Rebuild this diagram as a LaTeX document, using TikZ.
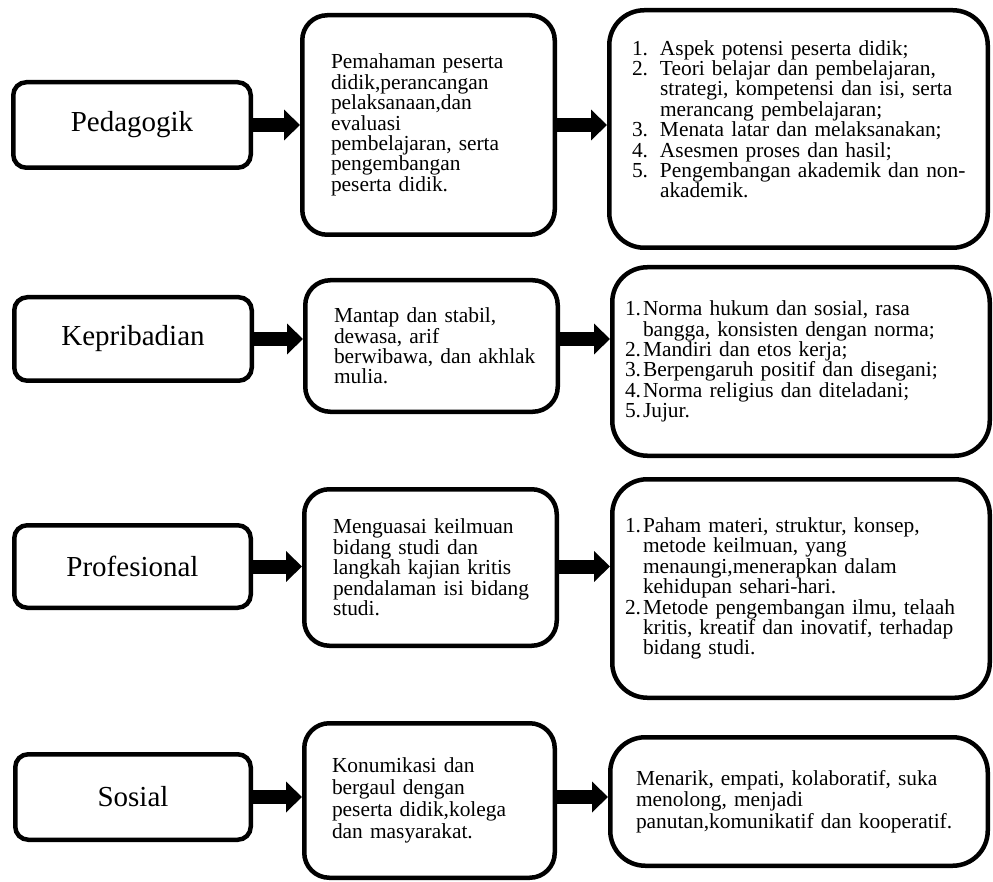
\documentclass[tikz,border=0pt]{standalone}
\usepackage{fontspec}
\setmainfont{Liberation Serif}
\usetikzlibrary{arrows.meta}
\newcommand{\numitem}[2]{\makebox[#1][l]{#2}}
\newcommand{\contline}[1]{\hspace*{#1}}
\begin{document}
\begin{tikzpicture}[x=1pt,y=-1pt,
  box/.style={draw=black, line width=4.5pt, fill=white, inner sep=0pt},
  catbox/.style={box, rounded corners=13pt, font=\fontsize{29}{32}\selectfont, align=center},
  midbox/.style={box, rounded corners=25pt, align=left, text width=195pt, font=\fontsize{21.4}{20.4}\selectfont},
  listbox/.style={box, rounded corners=35pt, align=left, font=\fontsize{21.4}{20.4}\selectfont},
  bigarrow/.style={draw=black, line width=14pt, -{Triangle[length=16pt,width=30pt]}}
]
\useasboundingbox (0,0) rectangle (993,882);

% Row 1
\node[catbox, minimum width=237.5pt, minimum height=85.5pt] (A1) at (132,125) {Pedagogik};
\node[midbox, minimum width=252.5pt, minimum height=219.5pt] (B1) at (428.5,125)
 {Pemahaman peserta\\didik,perancangan\\pelaksanaan,dan\\evaluasi\\pembelajaran, serta\\pengembangan\\peserta didik.};
\node[listbox, text width=333pt, minimum width=378.5pt, minimum height=237.5pt] (C1) at (798.5,129)
 {\numitem{28pt}{1.}Aspek potensi peserta didik;\\
  \numitem{28pt}{2.}Teori belajar dan pembelajaran,\\
  \contline{28pt}strategi, kompetensi dan isi, serta\\
  \contline{28pt}merancang pembelajaran;\\
  \numitem{28pt}{3.}Menata latar dan melaksanakan;\\
  \numitem{28pt}{4.}Asesmen proses dan hasil;\\
  \numitem{28pt}{5.}\mbox{Pengembangan akademik dan non-}\\
  \contline{28pt}akademik.\rule[-20pt]{0pt}{20pt}};

% Row 2
\node[catbox, minimum width=237.5pt, minimum height=83.5pt] (A2) at (133,339) {Kepribadian};
\node[midbox, minimum width=252.5pt, minimum height=131.5pt] (B2) at (431.5,346)
 {Mantap dan stabil,\\dewasa, arif\\\mbox{berwibawa, dan akhlak}\\mulia.};
\node[listbox, text width=352pt, minimum width=377.5pt, minimum height=188.5pt] (C2) at (801,361.5)
 {\numitem{18pt}{1.}Norma hukum dan sosial, rasa\\
  \contline{18pt}bangga, konsisten dengan norma;\\
  \numitem{18pt}{2.}Mandiri dan etos kerja;\\
  \numitem{18pt}{3.}Berpengaruh positif dan disegani;\\
  \numitem{18pt}{4.}Norma religius dan diteladani;\\
  \numitem{18pt}{5.}Jujur.};

% Row 3
\node[catbox, minimum width=236.5pt, minimum height=82.5pt] (A3) at (132.5,566.5) {Profesional};
\node[midbox, minimum width=252.5pt, minimum height=156.5pt] (B3) at (430.5,567.5)
 {Menguasai keilmuan\\bidang studi dan\\\mbox{langkah kajian kritis}\\\mbox{pendalaman isi bidang}\\studi.};
\node[listbox, text width=352pt, minimum width=377.5pt, minimum height=218.5pt] (C3) at (801,588.5)
 {\numitem{18pt}{1.}Paham materi, struktur, konsep,\\
  \contline{18pt}metode keilmuan, yang\\
  \contline{18pt}menaungi,menerapkan dalam\\
  \contline{18pt}kehidupan sehari-hari.\\
  \numitem{18pt}{2.}\mbox{Metode pengembangan ilmu, telaah}\\
  \contline{18pt}\mbox{kritis, kreatif dan inovatif, terhadap}\\
  \contline{18pt}bidang studi.};

% Row 4
\node[catbox, minimum width=235.5pt, minimum height=85.5pt] (A4) at (133,797) {Sosial};
\node[midbox, font=\fontsize{21.4}{22}\selectfont, minimum width=250.5pt, minimum height=154.5pt] (B4) at (429.5,800.5)
 {Konumikasi dan\\bergaul dengan\\\mbox{peserta didik,kolega}\\dan masyarakat.};
\node[listbox, font=\fontsize{21.4}{21.7}\selectfont, text width=326pt, minimum width=377.5pt, minimum height=128.5pt] (C4) at (799,801.5)
 {\mbox{Menarik, empati, kolaboratif, suka}\\menolong, menjadi\\\mbox{panutan,komunikatif dan kooperatif.}};

% Arrows
\foreach \r in {1,2,3,4}{
  \draw[bigarrow] (A\r.east) -- (A\r.east -| B\r.west);
  \draw[bigarrow] (B\r.east |- A\r.east) -- (A\r.east -| C\r.west);
}
\end{tikzpicture}
\end{document}
